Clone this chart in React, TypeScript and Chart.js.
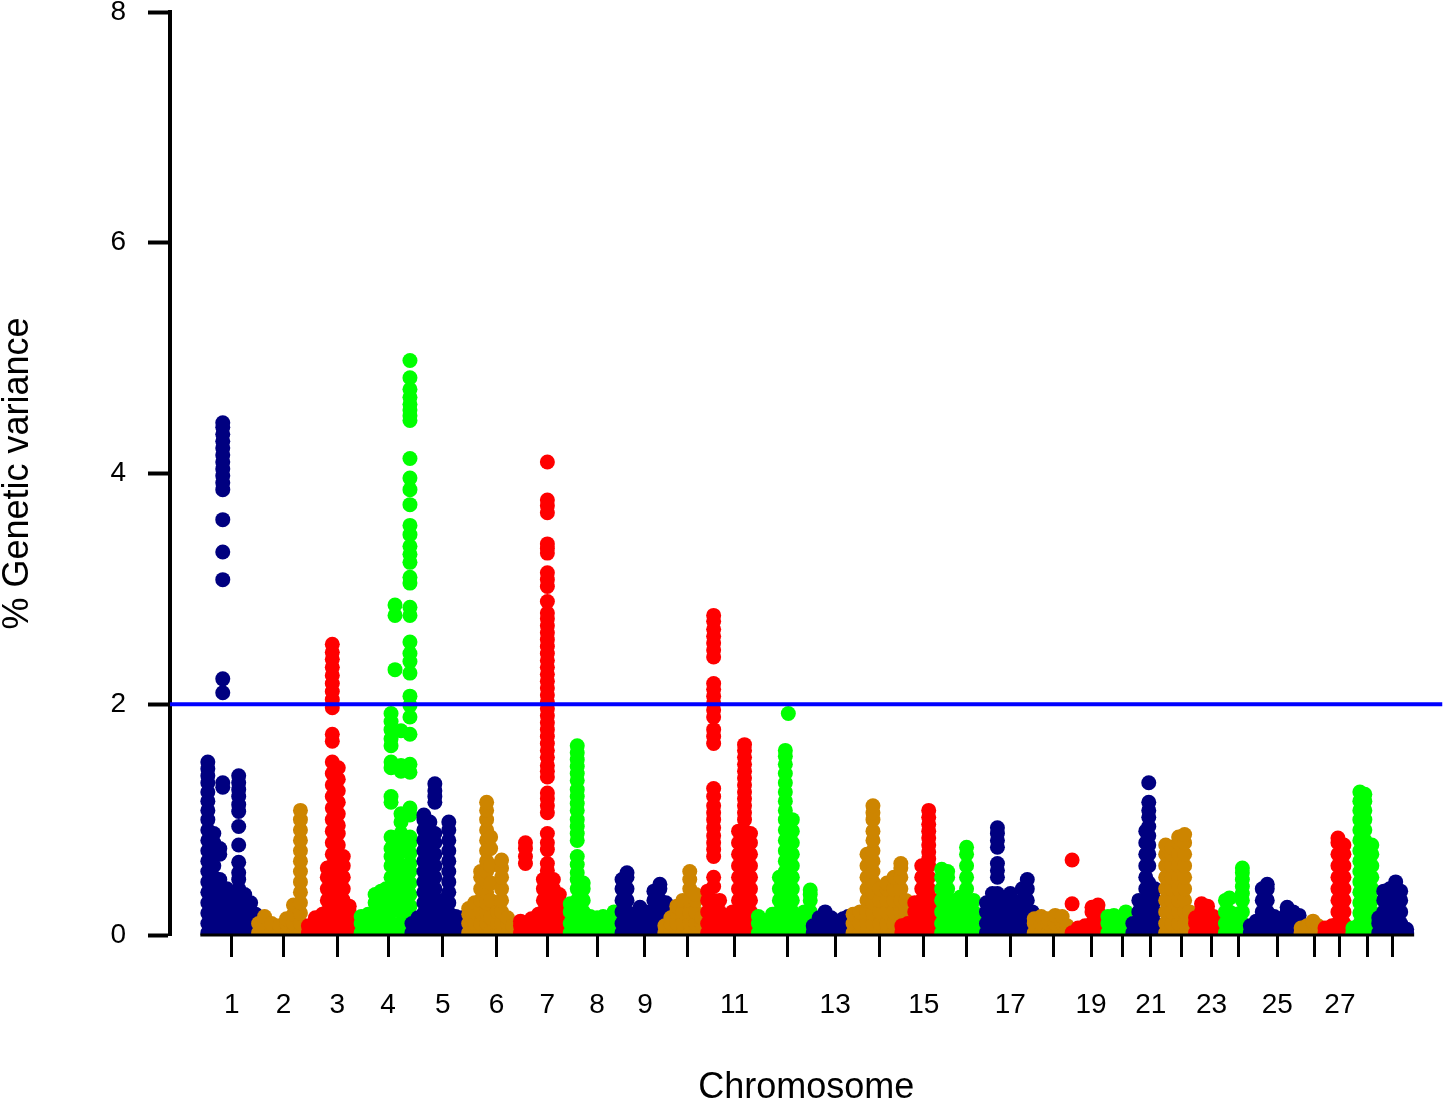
import { useEffect, useRef } from "react"
import { Chart, registerables } from "chart.js"

Chart.register(...registerables)

// [position within chromosome, ...% genetic variance values of the SNPs at that position]
type Col = number[]

// cumulative start of each chromosome along the genome axis
const chromStart = [72, 174, 274, 380, 482, 596, 700, 800, 904, 990, 1076, 1178, 1288, 1368, 1466, 1546, 1636, 1732, 1808, 1880, 1930, 1996, 2056, 2116, 2166, 2268, 2316, 2372, 2424]
// where each chromosome tick sits on the genome axis
const chromTicks = [124, 228, 336, 438, 548, 656, 758, 858, 954, 1040, 1134, 1240, 1336, 1426, 1514, 1600, 1688, 1774, 1850, 1914, 1970, 2032, 2092, 2146, 2224, 2298, 2350, 2406, 2456]
const tickLabels = ["1", "2", "3", "4", "5", "6", "7", "8", "9", "", "11", "", "13", "", "15", "", "17", "", "19", "", "21", "", "23", "", "25", "", "27", "", ""]
const genomeEnd = 2556
const threshold = 2
const yTicks = [0, 2, 4, 6, 8]

const chr1: Col[] = [
  [4, 0.02, 0.1, 0.19, 0.28, 0.37, 0.46, 0.55, 0.64, 0.73, 0.82, 0.91, 1.0, 1.08, 1.16, 1.24, 1.32, 1.38, 1.44, 1.5],
  [16, 0.02, 0.1, 0.2, 0.3, 0.4, 0.5, 0.6, 0.7, 0.8, 0.88],
  [28, 0.02, 0.1, 0.2, 0.3, 0.4, 0.48, 0.7, 0.75],
  [34, 1.28, 1.32, 2.1, 2.22, 3.08, 3.32, 3.6, 3.86, 3.92, 3.98, 4.04, 4.1, 4.16, 4.22, 4.28, 4.34, 4.4, 4.44],
  [42, 0.02, 0.1, 0.2, 0.3, 0.4],
  [54, 0.02, 0.1, 0.2, 0.3, 0.35],
  [66, 0.02, 0.1, 0.2, 0.3, 0.4, 0.48, 0.54, 0.63, 0.78, 0.94, 1.07, 1.13, 1.2, 1.26, 1.32, 1.38],
  [78, 0.02, 0.1, 0.2, 0.3, 0.35],
  [90, 0.02, 0.1, 0.2, 0.28],
  [100, 0.02, 0.1, 0.18],
]
const chr2: Col[] = [
  [4, 0.02, 0.1],
  [16, 0.02, 0.1, 0.16],
  [30, 0.02, 0.1],
  [46, 0.02, 0.08],
  [60, 0.02, 0.1, 0.14],
  [74, 0.02, 0.1, 0.18, 0.26],
  [88, 0.02, 0.1, 0.19, 0.28, 0.37, 0.46, 0.55, 0.64, 0.73, 0.82, 0.91, 1.0, 1.08],
]
const chr3: Col[] = [
  [4, 0.02, 0.08],
  [18, 0.02, 0.1, 0.15],
  [32, 0.02, 0.1, 0.18],
  [42, 0.02, 0.1, 0.2, 0.3, 0.4, 0.5, 0.58],
  [52, 0.02, 0.1, 0.2, 0.3, 0.4, 0.5, 0.6, 0.7, 0.8, 0.9, 1.0, 1.1, 1.2, 1.3, 1.4, 1.5, 1.68, 1.74, 1.97, 2.04, 2.11, 2.18, 2.25, 2.32, 2.39, 2.45, 2.52],
  [64, 0.02, 0.1, 0.2, 0.3, 0.4, 0.5, 0.6, 0.7, 0.78, 0.88, 0.95, 1.05, 1.15, 1.25, 1.35, 1.45],
  [74, 0.02, 0.1, 0.2, 0.3, 0.4, 0.5, 0.6, 0.68],
  [86, 0.02, 0.1, 0.2, 0.25],
  [96, 0.02, 0.08],
]
const chr4: Col[] = [
  [4, 0.02, 0.1, 0.16],
  [18, 0.02, 0.1, 0.18],
  [32, 0.02, 0.1, 0.2, 0.28, 0.35],
  [44, 0.02, 0.1, 0.2, 0.3, 0.38],
  [54, 0.02, 0.1, 0.2, 0.3, 0.4],
  [64, 0.02, 0.1, 0.2, 0.3, 0.4, 0.5, 0.6, 0.68, 0.75, 0.85, 1.15, 1.2, 1.45, 1.5, 1.64, 1.7, 1.78, 1.85, 1.92],
  [72, 0.3, 0.5, 0.62, 2.3, 2.77, 2.86],
  [84, 0.02, 0.1, 0.2, 0.3, 0.4, 0.5, 0.6, 0.72, 0.8, 0.88, 0.98, 1.05, 1.42, 1.47, 1.77],
  [102, 0.05, 0.15, 0.25, 0.35, 0.45, 0.55, 0.62, 0.71, 0.8, 0.85, 1.04, 1.1, 1.41, 1.48, 1.74, 1.89, 1.99, 2.07, 2.27, 2.37, 2.44, 2.54, 2.77, 2.84, 3.05, 3.1, 3.23, 3.3, 3.37, 3.47, 3.55, 3.73, 3.86, 3.96, 4.13, 4.46, 4.5, 4.55, 4.6, 4.66, 4.73, 4.83, 4.98],
]
const chr5: Col[] = [
  [4, 0.02, 0.1],
  [16, 0.02, 0.1, 0.15],
  [28, 0.02, 0.1, 0.19, 0.28, 0.37, 0.46, 0.55, 0.64, 0.73, 0.82, 0.91, 1.0, 1.04],
  [40, 0.02, 0.1, 0.19, 0.28, 0.37, 0.46, 0.55, 0.64, 0.73, 0.82, 0.91, 0.98],
  [50, 0.02, 0.1, 0.2, 0.3, 0.4, 0.5, 0.6, 0.7, 0.8, 0.88, 1.15, 1.2, 1.25, 1.31],
  [64, 0.02, 0.1, 0.2, 0.3],
  [78, 0.02, 0.1, 0.19, 0.28, 0.37, 0.46, 0.55, 0.64, 0.73, 0.82, 0.91, 0.98],
  [92, 0.02, 0.1, 0.16],
  [104, 0.02, 0.1, 0.15],
  [114, 0.02, 0.08],
]
const chr6: Col[] = [
  [4, 0.02, 0.1, 0.18, 0.23],
  [16, 0.02, 0.1, 0.2, 0.28],
  [28, 0.02, 0.1, 0.2, 0.3, 0.4, 0.5, 0.55],
  [40, 0.02, 0.1, 0.19, 0.28, 0.37, 0.46, 0.55, 0.64, 0.73, 0.82, 0.91, 1.0, 1.08, 1.15],
  [48, 0.02, 0.15, 0.3, 0.45, 0.6, 0.75, 0.85],
  [62, 0.02, 0.1, 0.2],
  [70, 0.02, 0.1, 0.2, 0.3, 0.4, 0.5, 0.58, 0.65],
  [82, 0.02, 0.1, 0.15],
  [92, 0.02, 0.08],
]
const chr7: Col[] = [
  [4, 0.02, 0.08, 0.12],
  [14, 0.02, 0.1, 0.62, 0.68, 0.75, 0.8],
  [26, 0.02, 0.1, 0.14],
  [40, 0.02, 0.1, 0.18],
  [50, 0.02, 0.1, 0.2, 0.3, 0.4, 0.48],
  [58, 0.02, 0.1, 0.2, 0.3, 0.4, 0.5, 0.56, 0.62, 0.74, 0.8, 0.88, 1.06, 1.12, 1.18, 1.23, 1.37, 1.42, 1.47, 1.54, 1.6, 1.66, 1.72, 1.78, 1.84, 1.9, 1.96, 2.02, 2.08, 2.14, 2.2, 2.26, 2.32, 2.38, 2.44, 2.5, 2.56, 2.62, 2.68, 2.74, 2.79, 2.89, 3.02, 3.08, 3.14, 3.31, 3.35, 3.39, 3.66, 3.72, 3.77, 4.1],
  [70, 0.02, 0.1, 0.2, 0.3, 0.4, 0.48],
  [82, 0.02, 0.1, 0.2, 0.3, 0.35],
  [92, 0.02, 0.1, 0.2],
]
const chr8: Col[] = [
  [4, 0.02, 0.1, 0.2, 0.27],
  [18, 0.02, 0.1, 0.2, 0.3, 0.4, 0.48, 0.54, 0.61, 0.68, 0.82, 0.88, 0.94, 1.0, 1.08, 1.14, 1.2, 1.26, 1.34, 1.4, 1.46, 1.52, 1.58, 1.64],
  [30, 0.02, 0.1, 0.2, 0.3, 0.4, 0.45],
  [44, 0.02, 0.1, 0.16],
  [58, 0.02, 0.1, 0.15],
  [70, 0.02, 0.1, 0.16],
  [82, 0.02, 0.08],
  [92, 0.02, 0.1, 0.2],
]
const chr9: Col[] = [
  [4, 0.02, 0.1, 0.2, 0.3, 0.4, 0.48],
  [14, 0.02, 0.1, 0.2, 0.3, 0.4, 0.5, 0.54],
  [28, 0.02, 0.1, 0.18],
  [40, 0.02, 0.1, 0.2, 0.24],
  [52, 0.02, 0.1, 0.2],
  [68, 0.02, 0.1, 0.2, 0.3, 0.38],
  [80, 0.02, 0.1, 0.2, 0.3, 0.4, 0.44],
  [92, 0.02, 0.1, 0.2, 0.28],
]
const chr10: Col[] = [
  [4, 0.02, 0.08],
  [16, 0.02, 0.1, 0.15],
  [28, 0.02, 0.1, 0.2, 0.25],
  [40, 0.02, 0.1, 0.2, 0.3],
  [54, 0.02, 0.1, 0.2, 0.3, 0.4, 0.48, 0.55],
  [66, 0.02, 0.1, 0.2, 0.3, 0.35],
  [78, 0.02, 0.1, 0.15],
]
const chr11: Col[] = [
  [4, 0.02, 0.1, 0.2, 0.3, 0.38],
  [16, 0.02, 0.1, 0.2, 0.3, 0.42, 0.5, 0.68, 0.74, 0.8, 0.86, 0.93, 1.0, 1.06, 1.12, 1.2, 1.27, 1.66, 1.72, 1.78, 1.89, 1.95, 2.01, 2.07, 2.13, 2.18, 2.41, 2.47, 2.53, 2.59, 2.65, 2.72, 2.77],
  [28, 0.02, 0.1, 0.2, 0.3],
  [42, 0.02, 0.1, 0.15],
  [54, 0.02, 0.1, 0.2],
  [66, 0.02, 0.1, 0.2, 0.3, 0.4, 0.5, 0.6, 0.7, 0.8, 0.9],
  [78, 0.02, 0.1, 0.2, 0.3, 0.4, 0.5, 0.6, 0.7, 0.8, 0.9, 1.0, 1.06, 1.12, 1.18, 1.24, 1.3, 1.36, 1.42, 1.48, 1.54, 1.6, 1.65],
  [90, 0.02, 0.1, 0.2, 0.3, 0.4, 0.5, 0.6, 0.7, 0.8, 0.88],
]
const chr12: Col[] = [
  [4, 0.02, 0.1, 0.16],
  [18, 0.02, 0.1, 0.12],
  [32, 0.02, 0.1, 0.18],
  [46, 0.02, 0.1, 0.2, 0.3, 0.4, 0.5],
  [58, 0.02, 0.1, 0.19, 0.28, 0.37, 0.46, 0.55, 0.64, 0.73, 0.82, 0.91, 1.0, 1.08, 1.16, 1.24, 1.32, 1.4, 1.48, 1.55, 1.6],
  [64, 1.92],
  [72, 0.02, 0.1, 0.2, 0.3, 0.4, 0.5, 0.6, 0.7, 0.8, 0.9, 1.0],
  [84, 0.02, 0.1, 0.15],
  [96, 0.02, 0.1, 0.2],
  [108, 0.02, 0.1, 0.2, 0.3, 0.35, 0.39],
  [118, 0.02, 0.1],
]
const chr13: Col[] = [
  [4, 0.02, 0.08],
  [16, 0.02, 0.1, 0.15],
  [28, 0.02, 0.1, 0.2],
  [40, 0.02, 0.1, 0.15],
  [52, 0.02, 0.1, 0.12],
  [64, 0.02, 0.1, 0.14],
  [74, 0.02, 0.1, 0.16],
]
const chr14: Col[] = [
  [4, 0.02, 0.1, 0.18],
  [18, 0.02, 0.1, 0.2],
  [32, 0.02, 0.1, 0.2, 0.3, 0.4, 0.5, 0.6, 0.7],
  [44, 0.02, 0.1, 0.19, 0.28, 0.37, 0.46, 0.55, 0.64, 0.73, 0.82, 0.9, 1.0, 1.06, 1.12],
  [58, 0.02, 0.1, 0.2, 0.3, 0.4],
  [72, 0.02, 0.1, 0.2, 0.3, 0.4, 0.45],
  [86, 0.02, 0.1, 0.2, 0.3, 0.4, 0.5],
  [100, 0.02, 0.1, 0.2, 0.3, 0.4, 0.5, 0.58, 0.62],
  [110, 0.02, 0.1, 0.2, 0.3],
]
const chr15: Col[] = [
  [4, 0.02, 0.08],
  [16, 0.02, 0.1],
  [30, 0.02, 0.1, 0.2, 0.28],
  [44, 0.02, 0.1, 0.2, 0.3, 0.4, 0.5, 0.6],
  [58, 0.02, 0.1, 0.2, 0.3, 0.4, 0.5, 0.6, 0.66, 0.72, 0.78, 0.84, 0.9, 0.96, 1.02, 1.08],
  [70, 0.02, 0.1, 0.2, 0.3],
]
const chr16: Col[] = [
  [4, 0.02, 0.1, 0.2, 0.3, 0.4, 0.5, 0.57],
  [16, 0.02, 0.1, 0.2, 0.3, 0.4, 0.5, 0.55],
  [30, 0.02, 0.1, 0.2, 0.3],
  [42, 0.02, 0.1, 0.2, 0.3, 0.33],
  [54, 0.02, 0.1, 0.2, 0.3, 0.4, 0.5, 0.6, 0.7, 0.76],
  [68, 0.02, 0.1, 0.2, 0.3],
  [80, 0.02, 0.1, 0.15],
]
const chr17: Col[] = [
  [4, 0.02, 0.1, 0.2, 0.28],
  [16, 0.02, 0.1, 0.2, 0.3, 0.36],
  [26, 0.02, 0.1, 0.2, 0.3, 0.36, 0.5, 0.56, 0.62, 0.76, 0.82, 0.88, 0.93],
  [40, 0.02, 0.1, 0.2, 0.3],
  [52, 0.02, 0.1, 0.2, 0.3, 0.36],
  [64, 0.02, 0.1, 0.2, 0.28],
  [76, 0.02, 0.1, 0.2, 0.3, 0.4],
  [86, 0.02, 0.1, 0.2, 0.3, 0.4, 0.48],
  [96, 0.02, 0.1, 0.2],
]
const chr18: Col[] = [
  [4, 0.02, 0.1, 0.14],
  [18, 0.02, 0.1, 0.16],
  [32, 0.02, 0.1, 0.14],
  [46, 0.02, 0.1, 0.17],
  [60, 0.02, 0.1, 0.16],
  [70, 0.02, 0.08],
]
const chr19: Col[] = [
  [4, 0.02, 0.27, 0.65],
  [16, 0.02, 0.06],
  [30, 0.02, 0.08],
  [44, 0.02, 0.1, 0.2, 0.24],
  [56, 0.02, 0.1, 0.2, 0.26],
  [64, 0.02, 0.1],
]
const chr20: Col[] = [
  [4, 0.02, 0.1, 0.16],
  [16, 0.02, 0.1, 0.17],
  [28, 0.02, 0.1, 0.14],
  [40, 0.02, 0.1, 0.2],
]
const chr21: Col[] = [
  [4, 0.02, 0.1],
  [16, 0.02, 0.1, 0.2, 0.3],
  [30, 0.02, 0.1, 0.2, 0.3, 0.4, 0.5, 0.6, 0.7, 0.8, 0.9],
  [36, 0.02, 0.15, 0.3, 0.45, 0.6, 0.7, 0.78, 0.86, 0.94, 1.02, 1.08, 1.15, 1.32],
  [48, 0.02, 0.1, 0.2, 0.3, 0.4],
  [56, 0.02, 0.08],
]
const chr22: Col[] = [
  [4, 0.02, 0.1, 0.2, 0.3, 0.4, 0.5, 0.6, 0.7, 0.78],
  [16, 0.02, 0.1, 0.2, 0.3, 0.4, 0.5, 0.6, 0.7, 0.76],
  [30, 0.02, 0.1, 0.2, 0.3, 0.4, 0.5, 0.6, 0.7, 0.8, 0.85],
  [42, 0.02, 0.1, 0.2, 0.3, 0.4, 0.5, 0.6, 0.7, 0.8, 0.87],
  [52, 0.02, 0.1, 0.2],
]
const chr23: Col[] = [
  [4, 0.02, 0.1, 0.15],
  [16, 0.02, 0.1, 0.2, 0.27],
  [28, 0.02, 0.1, 0.2, 0.25],
  [40, 0.02, 0.1, 0.16],
  [50, 0.02, 0.1],
]
const chr24: Col[] = [
  [4, 0.02, 0.1, 0.2, 0.3],
  [12, 0.02, 0.1, 0.2, 0.32],
  [26, 0.02, 0.1, 0.18],
  [38, 0.02, 0.1, 0.2, 0.3, 0.36, 0.42, 0.48, 0.54, 0.58],
]
const chr25: Col[] = [
  [4, 0.02, 0.08],
  [16, 0.02, 0.1, 0.12],
  [28, 0.02, 0.1, 0.2, 0.3, 0.4],
  [38, 0.02, 0.1, 0.2, 0.3, 0.4, 0.44],
  [52, 0.02, 0.1, 0.16],
  [64, 0.02, 0.1, 0.14],
  [78, 0.02, 0.1, 0.2, 0.24],
  [90, 0.02, 0.1, 0.2],
  [102, 0.02, 0.1, 0.17],
]
const chr26: Col[] = [
  [4, 0.02, 0.06],
  [16, 0.02, 0.08],
  [28, 0.02, 0.1, 0.12],
  [38, 0.02, 0.08],
]
const chr27: Col[] = [
  [4, 0.02, 0.06],
  [18, 0.02, 0.08],
  [30, 0.02, 0.1, 0.2, 0.3, 0.4, 0.5, 0.6, 0.7, 0.8, 0.84],
  [42, 0.02, 0.1, 0.2, 0.3, 0.4, 0.5, 0.6, 0.7, 0.78],
  [50, 0.02, 0.06],
]
const chr28: Col[] = [
  [4, 0.02, 0.06],
  [18, 0.02, 0.1, 0.19, 0.28, 0.37, 0.46, 0.55, 0.64, 0.73, 0.82, 0.91, 1.0, 1.08, 1.16, 1.24],
  [28, 0.02, 0.1, 0.19, 0.28, 0.37, 0.46, 0.55, 0.64, 0.73, 0.82, 0.91, 1.0, 1.08, 1.16, 1.22],
  [42, 0.02, 0.1, 0.2, 0.3, 0.4, 0.5, 0.6, 0.7, 0.78],
]
const chr29: Col[] = [
  [4, 0.02, 0.1, 0.15],
  [14, 0.02, 0.1, 0.2, 0.3, 0.38],
  [26, 0.02, 0.1, 0.2, 0.3, 0.4],
  [38, 0.02, 0.1, 0.2, 0.3, 0.4, 0.46],
  [48, 0.02, 0.1, 0.2, 0.3, 0.38],
  [60, 0.02, 0.05],
]

const chromosomes = [chr1, chr2, chr3, chr4, chr5, chr6, chr7, chr8, chr9, chr10, chr11, chr12, chr13, chr14, chr15, chr16, chr17, chr18, chr19, chr20, chr21, chr22, chr23, chr24, chr25, chr26, chr27, chr28, chr29]

// colours cycle per chromosome, as in the R plot
const palette = ["#000080", "#CD8500", "#FF0000", "#00FF00"]

const FONT = "'Liberation Sans', Arial, Helvetica, sans-serif"
const DOT = 7.5

// bottom axis line only spans the markers, like R's axis()
const xAxisLine = {
  id: "xAxisLine",
  afterDatasetsDraw(chart: any) {
    const { ctx, scales } = chart
    const last = chromosomes.length - 1
    const lastCols = chromosomes[last]
    const first = chromStart[0] + chromosomes[0][0][0]
    const end = chromStart[last] + lastCols[lastCols.length - 1][0]
    const y0 = scales.y.getPixelForValue(0)
    ctx.save()
    ctx.strokeStyle = "#000"
    ctx.lineWidth = 3
    ctx.beginPath()
    ctx.moveTo(scales.x.getPixelForValue(first) - DOT, y0)
    ctx.lineTo(scales.x.getPixelForValue(end) + DOT, y0)
    ctx.stroke()
    ctx.restore()
  },
}

export default function App() {
  const chartRef = useRef<HTMLCanvasElement>(null)
  const chartInstance = useRef<Chart | null>(null)

  useEffect(() => {
    document.body.style.margin = "0"
    if (!chartRef.current) return
    if (chartInstance.current) chartInstance.current.destroy()

    const datasets: any[] = chromosomes.map((cols, i) => ({
      type: "scatter",
      label: `Chr ${i + 1}`,
      data: cols.flatMap(([pos, ...vals]) => vals.map((v) => ({ x: chromStart[i] + pos, y: v }))),
      backgroundColor: palette[i % 4],
      borderColor: palette[i % 4],
      pointRadius: DOT,
      pointBorderWidth: 0,
      pointHoverRadius: DOT,
      clip: 0,
      order: 100 - i,
    }))

    datasets.push({
      type: "line",
      label: "threshold",
      data: [
        { x: 0, y: threshold },
        { x: genomeEnd, y: threshold },
      ],
      borderColor: "#0000FF",
      borderWidth: 4,
      pointRadius: 0,
      fill: false,
      order: 0,
    })

    const ctx = chartRef.current.getContext("2d")
    if (ctx) {
      chartInstance.current = new Chart(ctx, {
        type: "scatter",
        data: { datasets },
        options: {
          responsive: false,
          animation: false,
          devicePixelRatio: 1,
          events: [],
          layout: { padding: { top: 12, right: 2, left: 0, bottom: 0 } },
          scales: {
            x: {
              type: "linear",
              position: "bottom",
              min: 0,
              max: genomeEnd,
              afterBuildTicks: (scale: any) => {
                scale.ticks = chromTicks.map((value) => ({ value }))
              },
              afterFit: (scale: any) => {
                scale.height = 171
                scale.paddingLeft = 0
                scale.paddingRight = 0
              },
              ticks: {
                autoSkip: false,
                maxRotation: 0,
                minRotation: 0,
                padding: 34,
                color: "#000",
                font: { family: FONT, size: 28, lineHeight: 1 },
                callback: (_v: any, i: number) => tickLabels[i] ?? "",
              },
              grid: {
                drawOnChartArea: false,
                drawTicks: true,
                tickLength: 22,
                tickWidth: 3,
                tickColor: "#000",
                color: "#000",
              },
              border: { display: false },
              title: {
                display: true,
                text: "Chromosome",
                color: "#000",
                font: { family: FONT, size: 36, lineHeight: 1 },
                padding: 0,
              },
            },
            y: {
              min: 0,
              max: 8,
              afterBuildTicks: (scale: any) => {
                scale.ticks = yTicks.map((value) => ({ value }))
              },
              afterFit: (scale: any) => {
                scale.width = 170
                scale.paddingTop = 0
                scale.paddingBottom = 0
              },
              ticks: {
                padding: 22,
                color: "#000",
                font: { family: FONT, size: 28, lineHeight: 1 },
              },
              grid: {
                drawOnChartArea: false,
                drawTicks: true,
                tickLength: 22,
                tickWidth: 4,
                tickColor: "#000",
                color: "#000",
              },
              border: { display: true, color: "#000", width: 4 },
              title: {
                display: true,
                text: "% Genetic variance",
                color: "#000",
                font: { family: FONT, size: 36, lineHeight: 1 },
                padding: 0,
              },
            },
          },
          plugins: {
            legend: { display: false },
            tooltip: { enabled: false },
          },
        },
        plugins: [xAxisLine],
      })
    }

    return () => {
      if (chartInstance.current) {
        chartInstance.current.destroy()
        chartInstance.current = null
      }
    }
  }, [])

  return (
    <div style={{ width: 1450, height: 1106, background: "#fff" }}>
      <canvas ref={chartRef} width={1450} height={1106} />
    </div>
  )
}
